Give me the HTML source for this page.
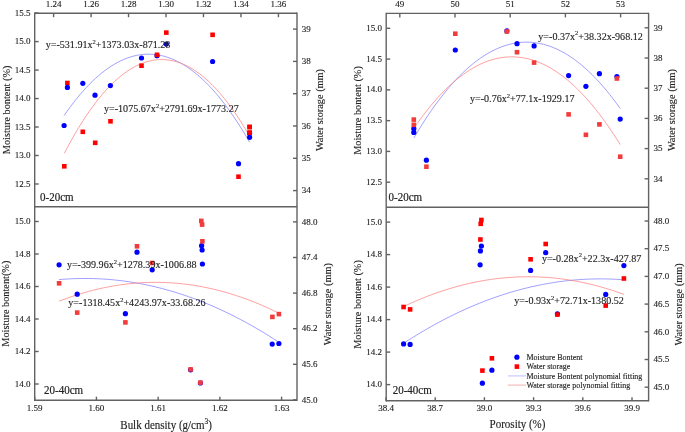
<!DOCTYPE html>
<html><head><meta charset="utf-8"><style>
html,body{margin:0;padding:0;background:#fff;}
svg{display:block;will-change:transform;}
text{font-family:"Liberation Serif",serif;fill:#222;stroke:#222;stroke-width:0.12px;}
.b{stroke:#222;stroke-width:0.18px;}
</style></head><body>
<svg width="685" height="432" viewBox="0 0 685 432">
<rect width="685" height="432" fill="#fff"/>
<g>
<rect width="685" height="432" fill="#fff"/>
<line x1="34.70" y1="13.20" x2="297.00" y2="13.20" stroke="#626262" stroke-width="1.4"/>
<line x1="34.70" y1="12.60" x2="34.70" y2="400.90" stroke="#626262" stroke-width="1.4"/>
<line x1="297.00" y1="12.60" x2="297.00" y2="400.90" stroke="#626262" stroke-width="1.4"/>
<line x1="34.70" y1="206.70" x2="297.00" y2="206.70" stroke="#626262" stroke-width="1.4"/>
<line x1="34.70" y1="400.30" x2="297.00" y2="400.30" stroke="#626262" stroke-width="1.4"/>
<line x1="53.60" y1="13.20" x2="53.60" y2="17.20" stroke="#626262" stroke-width="1.4"/>
<text transform="translate(53.60,7.30) scale(1,1.0)" font-size="9.0" text-anchor="middle">1.24</text>
<line x1="91.07" y1="13.20" x2="91.07" y2="17.20" stroke="#626262" stroke-width="1.4"/>
<text transform="translate(91.07,7.30) scale(1,1.0)" font-size="9.0" text-anchor="middle">1.26</text>
<line x1="128.54" y1="13.20" x2="128.54" y2="17.20" stroke="#626262" stroke-width="1.4"/>
<text transform="translate(128.54,7.30) scale(1,1.0)" font-size="9.0" text-anchor="middle">1.28</text>
<line x1="166.01" y1="13.20" x2="166.01" y2="17.20" stroke="#626262" stroke-width="1.4"/>
<text transform="translate(166.01,7.30) scale(1,1.0)" font-size="9.0" text-anchor="middle">1.30</text>
<line x1="203.48" y1="13.20" x2="203.48" y2="17.20" stroke="#626262" stroke-width="1.4"/>
<text transform="translate(203.48,7.30) scale(1,1.0)" font-size="9.0" text-anchor="middle">1.32</text>
<line x1="240.95" y1="13.20" x2="240.95" y2="17.20" stroke="#626262" stroke-width="1.4"/>
<text transform="translate(240.95,7.30) scale(1,1.0)" font-size="9.0" text-anchor="middle">1.34</text>
<line x1="278.42" y1="13.20" x2="278.42" y2="17.20" stroke="#626262" stroke-width="1.4"/>
<text transform="translate(278.42,7.30) scale(1,1.0)" font-size="9.0" text-anchor="middle">1.36</text>
<line x1="34.70" y1="13.10" x2="38.70" y2="13.10" stroke="#626262" stroke-width="1.4"/>
<text transform="translate(30.40,15.70) scale(1,1.0)" font-size="9.0" text-anchor="end">15.5</text>
<line x1="34.70" y1="41.58" x2="38.70" y2="41.58" stroke="#626262" stroke-width="1.4"/>
<text transform="translate(30.40,44.18) scale(1,1.0)" font-size="9.0" text-anchor="end">15.0</text>
<line x1="34.70" y1="70.06" x2="38.70" y2="70.06" stroke="#626262" stroke-width="1.4"/>
<text transform="translate(30.40,72.66) scale(1,1.0)" font-size="9.0" text-anchor="end">14.5</text>
<line x1="34.70" y1="98.54" x2="38.70" y2="98.54" stroke="#626262" stroke-width="1.4"/>
<text transform="translate(30.40,101.14) scale(1,1.0)" font-size="9.0" text-anchor="end">14.0</text>
<line x1="34.70" y1="127.02" x2="38.70" y2="127.02" stroke="#626262" stroke-width="1.4"/>
<text transform="translate(30.40,129.62) scale(1,1.0)" font-size="9.0" text-anchor="end">13.5</text>
<line x1="34.70" y1="155.50" x2="38.70" y2="155.50" stroke="#626262" stroke-width="1.4"/>
<text transform="translate(30.40,158.10) scale(1,1.0)" font-size="9.0" text-anchor="end">13.0</text>
<line x1="34.70" y1="183.98" x2="38.70" y2="183.98" stroke="#626262" stroke-width="1.4"/>
<text transform="translate(30.40,186.58) scale(1,1.0)" font-size="9.0" text-anchor="end">12.5</text>
<line x1="293.00" y1="29.10" x2="297.00" y2="29.10" stroke="#626262" stroke-width="1.4"/>
<text transform="translate(301.80,31.80) scale(1,1.0)" font-size="9.0" text-anchor="start">39</text>
<line x1="293.00" y1="61.40" x2="297.00" y2="61.40" stroke="#626262" stroke-width="1.4"/>
<text transform="translate(301.80,64.10) scale(1,1.0)" font-size="9.0" text-anchor="start">38</text>
<line x1="293.00" y1="93.70" x2="297.00" y2="93.70" stroke="#626262" stroke-width="1.4"/>
<text transform="translate(301.80,96.40) scale(1,1.0)" font-size="9.0" text-anchor="start">37</text>
<line x1="293.00" y1="126.00" x2="297.00" y2="126.00" stroke="#626262" stroke-width="1.4"/>
<text transform="translate(301.80,128.70) scale(1,1.0)" font-size="9.0" text-anchor="start">36</text>
<line x1="293.00" y1="158.30" x2="297.00" y2="158.30" stroke="#626262" stroke-width="1.4"/>
<text transform="translate(301.80,161.00) scale(1,1.0)" font-size="9.0" text-anchor="start">35</text>
<line x1="293.00" y1="190.60" x2="297.00" y2="190.60" stroke="#626262" stroke-width="1.4"/>
<text transform="translate(301.80,193.30) scale(1,1.0)" font-size="9.0" text-anchor="start">34</text>
<line x1="34.70" y1="400.30" x2="34.70" y2="396.70" stroke="#626262" stroke-width="1.4"/>
<text transform="translate(34.70,411.00) scale(1,1.0)" font-size="9.0" text-anchor="middle">1.59</text>
<line x1="96.42" y1="400.30" x2="96.42" y2="396.70" stroke="#626262" stroke-width="1.4"/>
<text transform="translate(96.42,411.00) scale(1,1.0)" font-size="9.0" text-anchor="middle">1.60</text>
<line x1="158.14" y1="400.30" x2="158.14" y2="396.70" stroke="#626262" stroke-width="1.4"/>
<text transform="translate(158.14,411.00) scale(1,1.0)" font-size="9.0" text-anchor="middle">1.61</text>
<line x1="219.86" y1="400.30" x2="219.86" y2="396.70" stroke="#626262" stroke-width="1.4"/>
<text transform="translate(219.86,411.00) scale(1,1.0)" font-size="9.0" text-anchor="middle">1.62</text>
<line x1="281.58" y1="400.30" x2="281.58" y2="396.70" stroke="#626262" stroke-width="1.4"/>
<text transform="translate(281.58,411.00) scale(1,1.0)" font-size="9.0" text-anchor="middle">1.63</text>
<line x1="34.70" y1="221.50" x2="38.70" y2="221.50" stroke="#626262" stroke-width="1.4"/>
<text transform="translate(30.40,224.10) scale(1,1.0)" font-size="9.0" text-anchor="end">15.0</text>
<line x1="34.70" y1="254.00" x2="38.70" y2="254.00" stroke="#626262" stroke-width="1.4"/>
<text transform="translate(30.40,256.60) scale(1,1.0)" font-size="9.0" text-anchor="end">14.8</text>
<line x1="34.70" y1="286.50" x2="38.70" y2="286.50" stroke="#626262" stroke-width="1.4"/>
<text transform="translate(30.40,289.10) scale(1,1.0)" font-size="9.0" text-anchor="end">14.6</text>
<line x1="34.70" y1="319.00" x2="38.70" y2="319.00" stroke="#626262" stroke-width="1.4"/>
<text transform="translate(30.40,321.60) scale(1,1.0)" font-size="9.0" text-anchor="end">14.4</text>
<line x1="34.70" y1="351.50" x2="38.70" y2="351.50" stroke="#626262" stroke-width="1.4"/>
<text transform="translate(30.40,354.10) scale(1,1.0)" font-size="9.0" text-anchor="end">14.2</text>
<line x1="34.70" y1="384.00" x2="38.70" y2="384.00" stroke="#626262" stroke-width="1.4"/>
<text transform="translate(30.40,386.60) scale(1,1.0)" font-size="9.0" text-anchor="end">14.0</text>
<line x1="293.00" y1="221.90" x2="297.00" y2="221.90" stroke="#626262" stroke-width="1.4"/>
<text transform="translate(301.80,224.60) scale(1,1.0)" font-size="9.0" text-anchor="start">48.0</text>
<line x1="293.00" y1="257.50" x2="297.00" y2="257.50" stroke="#626262" stroke-width="1.4"/>
<text transform="translate(301.80,260.20) scale(1,1.0)" font-size="9.0" text-anchor="start">47.4</text>
<line x1="293.00" y1="293.10" x2="297.00" y2="293.10" stroke="#626262" stroke-width="1.4"/>
<text transform="translate(301.80,295.80) scale(1,1.0)" font-size="9.0" text-anchor="start">46.8</text>
<line x1="293.00" y1="328.70" x2="297.00" y2="328.70" stroke="#626262" stroke-width="1.4"/>
<text transform="translate(301.80,331.40) scale(1,1.0)" font-size="9.0" text-anchor="start">46.2</text>
<line x1="293.00" y1="364.30" x2="297.00" y2="364.30" stroke="#626262" stroke-width="1.4"/>
<text transform="translate(301.80,367.00) scale(1,1.0)" font-size="9.0" text-anchor="start">45.6</text>
<line x1="293.00" y1="399.90" x2="297.00" y2="399.90" stroke="#626262" stroke-width="1.4"/>
<text transform="translate(301.80,402.60) scale(1,1.0)" font-size="9.0" text-anchor="start">45.0</text>
<text transform="translate(9.55,109.90) rotate(-90) scale(1,1.0)" font-size="10.3" text-anchor="middle">Moisture bontent (%)</text>
<text transform="translate(322.70,110.00) rotate(-90) scale(1,1.0)" font-size="10.3" text-anchor="middle">Water storage (mm)</text>
<text transform="translate(9.40,303.70) rotate(-90) scale(1,1.0)" font-size="10.3" text-anchor="middle">Moisture bontent(%)</text>
<text transform="translate(330.50,304.20) rotate(-90) scale(1,1.0)" font-size="10.3" text-anchor="middle">Water storage (mm)</text>
<text transform="translate(120.30,428.60) scale(1,1.07)" font-size="11">Bulk density (g/cm<tspan font-size="7.5" dy="-4.5">3</tspan><tspan dy="4.5">)</tspan></text>
<text class="b" transform="translate(40.00,200.60) scale(1,1.07)" font-size="11" text-anchor="start">0-20cm</text>
<text class="b" transform="translate(44.00,393.60) scale(1,1.07)" font-size="11" text-anchor="start">20-40cm</text>
<path d="M64.10,115.54 L67.24,111.05 L70.39,106.74 L73.53,102.59 L76.68,98.62 L79.82,94.81 L82.96,91.17 L86.11,87.71 L89.25,84.41 L92.40,81.29 L95.54,78.34 L98.68,75.55 L101.83,72.94 L104.97,70.50 L108.12,68.22 L111.26,66.12 L114.41,64.19 L117.55,62.42 L120.69,60.83 L123.84,59.41 L126.98,58.16 L130.13,57.08 L133.27,56.17 L136.41,55.43 L139.56,54.86 L142.70,54.46 L145.85,54.23 L148.99,54.17 L152.13,54.28 L155.28,54.56 L158.42,55.01 L161.57,55.63 L164.71,56.43 L167.85,57.39 L171.00,58.52 L174.14,59.83 L177.29,61.30 L180.43,62.94 L183.57,64.76 L186.72,66.74 L189.86,68.90 L193.01,71.22 L196.15,73.72 L199.29,76.38 L202.44,79.22 L205.58,82.22 L208.73,85.40 L211.87,88.75 L215.02,92.26 L218.16,95.95 L221.30,99.81 L224.45,103.84 L227.59,108.03 L230.74,112.40 L233.88,116.94 L237.02,121.65 L240.17,126.53 L243.31,131.58 L246.46,136.80 L249.60,142.19" fill="none" stroke="#8080ff" stroke-width="0.75"/>
<path d="M64.30,153.30 L67.44,147.34 L70.58,141.59 L73.72,136.03 L76.86,130.66 L80.00,125.49 L83.14,120.51 L86.28,115.73 L89.43,111.14 L92.57,106.75 L95.71,102.56 L98.85,98.56 L101.99,94.75 L105.13,91.14 L108.27,87.73 L111.41,84.51 L114.55,81.49 L117.69,78.66 L120.83,76.02 L123.97,73.59 L127.11,71.34 L130.25,69.30 L133.39,67.45 L136.54,65.79 L139.68,64.33 L142.82,63.06 L145.96,61.99 L149.10,61.11 L152.24,60.43 L155.38,59.95 L158.52,59.66 L161.66,59.56 L164.80,59.67 L167.94,59.96 L171.08,60.45 L174.22,61.14 L177.36,62.02 L180.51,63.10 L183.65,64.37 L186.79,65.84 L189.93,67.50 L193.07,69.36 L196.21,71.41 L199.35,73.66 L202.49,76.11 L205.63,78.75 L208.77,81.58 L211.91,84.61 L215.05,87.84 L218.19,91.26 L221.33,94.87 L224.47,98.68 L227.62,102.69 L230.76,106.89 L233.90,111.29 L237.04,115.88 L240.18,120.67 L243.32,125.65 L246.46,130.83 L249.60,136.20" fill="none" stroke="#ff8080" stroke-width="0.75"/>
<circle cx="249.60" cy="133.50" r="2.6" fill="#0000ff"/>
<rect x="65.10" y="80.70" width="4.6" height="4.6" fill="#ff0000"/>
<rect x="80.50" y="129.50" width="4.6" height="4.6" fill="#ff0000"/>
<rect x="108.20" y="119.00" width="4.6" height="4.6" fill="#ff0000"/>
<rect x="62.00" y="164.00" width="4.6" height="4.6" fill="#ff0000"/>
<rect x="92.90" y="140.50" width="4.6" height="4.6" fill="#ff0000"/>
<rect x="164.00" y="30.30" width="4.6" height="4.6" fill="#ff0000"/>
<rect x="139.20" y="63.40" width="4.6" height="4.6" fill="#ff0000"/>
<rect x="210.30" y="32.50" width="4.6" height="4.6" fill="#ff0000"/>
<rect x="247.30" y="124.70" width="4.6" height="4.6" fill="#ff0000"/>
<rect x="247.30" y="130.50" width="4.6" height="4.6" fill="#ff0000"/>
<rect x="236.20" y="174.40" width="4.6" height="4.6" fill="#ff0000"/>
<circle cx="67.40" cy="87.40" r="2.6" fill="#0000ff"/>
<circle cx="82.80" cy="83.30" r="2.6" fill="#0000ff"/>
<circle cx="95.00" cy="95.20" r="2.6" fill="#0000ff"/>
<circle cx="110.40" cy="85.60" r="2.6" fill="#0000ff"/>
<circle cx="64.10" cy="125.50" r="2.6" fill="#0000ff"/>
<circle cx="166.30" cy="44.10" r="2.6" fill="#0000ff"/>
<circle cx="157.00" cy="55.70" r="2.6" fill="#0000ff"/>
<circle cx="141.50" cy="58.00" r="2.6" fill="#0000ff"/>
<circle cx="212.60" cy="61.50" r="2.6" fill="#0000ff"/>
<circle cx="249.60" cy="137.30" r="2.6" fill="#0000ff"/>
<circle cx="238.50" cy="163.70" r="2.6" fill="#0000ff"/>
<rect x="154.70" y="52.50" width="4.6" height="4.6" fill="#ff0000"/>
<rect x="247.30" y="124.70" width="4.6" height="4.6" fill="#ff0000"/>
<rect x="247.30" y="130.30" width="4.6" height="4.6" fill="#ff0000"/>
<text transform="translate(45.70,47.85) scale(1,1.07)" font-size="10.1">y=-531.91x<tspan font-size="6.5" dy="-4">2</tspan><tspan dy="4">+1373.03x-871.28</tspan></text>
<text transform="translate(104.00,111.95) scale(1,1.07)" font-size="10.1">y=-1075.67x<tspan font-size="6.5" dy="-4">2</tspan><tspan dy="4">+2791.69x-1773.27</tspan></text>
<path d="M59.10,279.61 L62.80,279.31 L66.50,279.05 L70.20,278.85 L73.90,278.68 L77.60,278.57 L81.30,278.50 L85.00,278.47 L88.70,278.50 L92.40,278.57 L96.10,278.68 L99.80,278.84 L103.50,279.05 L107.20,279.31 L110.90,279.61 L114.60,279.96 L118.30,280.35 L122.00,280.79 L125.70,281.28 L129.40,281.82 L133.10,282.40 L136.80,283.02 L140.50,283.70 L144.20,284.42 L147.90,285.18 L151.60,286.00 L155.30,286.85 L159.00,287.76 L162.70,288.71 L166.40,289.71 L170.10,290.76 L173.80,291.85 L177.50,292.98 L181.20,294.17 L184.90,295.40 L188.60,296.68 L192.30,298.00 L196.00,299.37 L199.70,300.79 L203.40,302.25 L207.10,303.76 L210.80,305.32 L214.50,306.92 L218.20,308.57 L221.90,310.26 L225.60,312.00 L229.30,313.79 L233.00,315.63 L236.70,317.51 L240.40,319.43 L244.10,321.41 L247.80,323.43 L251.50,325.50 L255.20,327.61 L258.90,329.77 L262.60,331.97 L266.30,334.23 L270.00,336.53 L273.70,338.87 L277.40,341.26" fill="none" stroke="#8080ff" stroke-width="0.75"/>
<path d="M59.10,301.20 L62.80,299.78 L66.50,298.42 L70.20,297.11 L73.90,295.86 L77.60,294.66 L81.30,293.52 L85.00,292.43 L88.70,291.40 L92.40,290.43 L96.10,289.51 L99.80,288.64 L103.50,287.84 L107.20,287.08 L110.90,286.38 L114.60,285.74 L118.30,285.16 L122.00,284.63 L125.70,284.15 L129.40,283.73 L133.10,283.37 L136.80,283.06 L140.50,282.80 L144.20,282.61 L147.90,282.47 L151.60,282.38 L155.30,282.35 L159.00,282.37 L162.70,282.45 L166.40,282.59 L170.10,282.78 L173.80,283.03 L177.50,283.33 L181.20,283.69 L184.90,284.10 L188.60,284.57 L192.30,285.09 L196.00,285.67 L199.70,286.31 L203.40,287.00 L207.10,287.75 L210.80,288.55 L214.50,289.41 L218.20,290.32 L221.90,291.29 L225.60,292.31 L229.30,293.39 L233.00,294.53 L236.70,295.72 L240.40,296.97 L244.10,298.27 L247.80,299.63 L251.50,301.04 L255.20,302.51 L258.90,304.03 L262.60,305.61 L266.30,307.25 L270.00,308.94 L273.70,310.68 L277.40,312.49" fill="none" stroke="#ff8080" stroke-width="0.75"/>
<circle cx="59.10" cy="264.80" r="2.6" fill="#0000ff"/>
<circle cx="77.20" cy="294.20" r="2.6" fill="#0000ff"/>
<circle cx="125.40" cy="313.70" r="2.6" fill="#0000ff"/>
<circle cx="137.00" cy="252.20" r="2.6" fill="#0000ff"/>
<circle cx="152.20" cy="269.80" r="2.6" fill="#0000ff"/>
<circle cx="190.60" cy="369.80" r="2.6" fill="#0000ff"/>
<circle cx="200.40" cy="383.00" r="2.6" fill="#0000ff"/>
<circle cx="201.60" cy="245.70" r="2.6" fill="#0000ff"/>
<circle cx="202.10" cy="250.00" r="2.6" fill="#0000ff"/>
<circle cx="202.40" cy="264.00" r="2.6" fill="#0000ff"/>
<circle cx="272.20" cy="344.10" r="2.6" fill="#0000ff"/>
<circle cx="278.90" cy="343.50" r="2.6" fill="#0000ff"/>
<rect x="56.80" y="281.00" width="4.6" height="4.6" fill="#f23c3c"/>
<rect x="74.90" y="310.30" width="4.6" height="4.6" fill="#f23c3c"/>
<rect x="123.10" y="320.10" width="4.6" height="4.6" fill="#f23c3c"/>
<rect x="134.70" y="244.00" width="4.6" height="4.6" fill="#f23c3c"/>
<rect x="149.90" y="260.70" width="4.6" height="4.6" fill="#f23c3c"/>
<rect x="199.00" y="218.60" width="4.6" height="4.6" fill="#f23c3c"/>
<rect x="199.80" y="222.30" width="4.6" height="4.6" fill="#f23c3c"/>
<rect x="200.10" y="239.00" width="4.6" height="4.6" fill="#f23c3c"/>
<rect x="270.10" y="314.60" width="4.6" height="4.6" fill="#f23c3c"/>
<rect x="276.60" y="311.80" width="4.6" height="4.6" fill="#f23c3c"/>
<rect x="188.30" y="367.10" width="4.6" height="4.6" fill="#f23c3c"/>
<rect x="198.10" y="380.30" width="4.6" height="4.6" fill="#f23c3c"/>
<text transform="translate(66.90,267.85) scale(1,1.07)" font-size="10.1">y=-399.96x<tspan font-size="6.5" dy="-4">2</tspan><tspan dy="4">+1278.39x-1006.88</tspan></text>
<text transform="translate(68.30,306.25) scale(1,1.07)" font-size="10.1">y=-1318.45x<tspan font-size="6.5" dy="-4">2</tspan><tspan dy="4">+4243.97x-33.68.26</tspan></text>
<line x1="386.20" y1="13.40" x2="648.60" y2="13.40" stroke="#626262" stroke-width="1.4"/>
<line x1="386.20" y1="12.80" x2="386.20" y2="401.40" stroke="#626262" stroke-width="1.4"/>
<line x1="648.60" y1="12.80" x2="648.60" y2="401.40" stroke="#626262" stroke-width="1.4"/>
<line x1="386.20" y1="207.20" x2="648.60" y2="207.20" stroke="#626262" stroke-width="1.4"/>
<line x1="386.20" y1="400.80" x2="648.60" y2="400.80" stroke="#626262" stroke-width="1.4"/>
<line x1="399.80" y1="13.40" x2="399.80" y2="17.40" stroke="#626262" stroke-width="1.4"/>
<text transform="translate(399.80,7.30) scale(1,1.0)" font-size="9.0" text-anchor="middle">49</text>
<line x1="455.00" y1="13.40" x2="455.00" y2="17.40" stroke="#626262" stroke-width="1.4"/>
<text transform="translate(455.00,7.30) scale(1,1.0)" font-size="9.0" text-anchor="middle">50</text>
<line x1="510.20" y1="13.40" x2="510.20" y2="17.40" stroke="#626262" stroke-width="1.4"/>
<text transform="translate(510.20,7.30) scale(1,1.0)" font-size="9.0" text-anchor="middle">51</text>
<line x1="565.40" y1="13.40" x2="565.40" y2="17.40" stroke="#626262" stroke-width="1.4"/>
<text transform="translate(565.40,7.30) scale(1,1.0)" font-size="9.0" text-anchor="middle">52</text>
<line x1="620.60" y1="13.40" x2="620.60" y2="17.40" stroke="#626262" stroke-width="1.4"/>
<text transform="translate(620.60,7.30) scale(1,1.0)" font-size="9.0" text-anchor="middle">53</text>
<line x1="386.20" y1="28.30" x2="390.20" y2="28.30" stroke="#626262" stroke-width="1.4"/>
<text transform="translate(381.90,30.90) scale(1,1.0)" font-size="9.0" text-anchor="end">15.0</text>
<line x1="386.20" y1="59.08" x2="390.20" y2="59.08" stroke="#626262" stroke-width="1.4"/>
<text transform="translate(381.90,61.68) scale(1,1.0)" font-size="9.0" text-anchor="end">14.5</text>
<line x1="386.20" y1="89.86" x2="390.20" y2="89.86" stroke="#626262" stroke-width="1.4"/>
<text transform="translate(381.90,92.46) scale(1,1.0)" font-size="9.0" text-anchor="end">14.0</text>
<line x1="386.20" y1="120.64" x2="390.20" y2="120.64" stroke="#626262" stroke-width="1.4"/>
<text transform="translate(381.90,123.24) scale(1,1.0)" font-size="9.0" text-anchor="end">13.5</text>
<line x1="386.20" y1="151.42" x2="390.20" y2="151.42" stroke="#626262" stroke-width="1.4"/>
<text transform="translate(381.90,154.02) scale(1,1.0)" font-size="9.0" text-anchor="end">13.0</text>
<line x1="386.20" y1="182.20" x2="390.20" y2="182.20" stroke="#626262" stroke-width="1.4"/>
<text transform="translate(381.90,184.80) scale(1,1.0)" font-size="9.0" text-anchor="end">12.5</text>
<line x1="644.60" y1="27.80" x2="648.60" y2="27.80" stroke="#626262" stroke-width="1.4"/>
<text transform="translate(653.40,30.50) scale(1,1.0)" font-size="9.0" text-anchor="start">39</text>
<line x1="644.60" y1="58.00" x2="648.60" y2="58.00" stroke="#626262" stroke-width="1.4"/>
<text transform="translate(653.40,60.70) scale(1,1.0)" font-size="9.0" text-anchor="start">38</text>
<line x1="644.60" y1="88.20" x2="648.60" y2="88.20" stroke="#626262" stroke-width="1.4"/>
<text transform="translate(653.40,90.90) scale(1,1.0)" font-size="9.0" text-anchor="start">37</text>
<line x1="644.60" y1="118.40" x2="648.60" y2="118.40" stroke="#626262" stroke-width="1.4"/>
<text transform="translate(653.40,121.10) scale(1,1.0)" font-size="9.0" text-anchor="start">36</text>
<line x1="644.60" y1="148.60" x2="648.60" y2="148.60" stroke="#626262" stroke-width="1.4"/>
<text transform="translate(653.40,151.30) scale(1,1.0)" font-size="9.0" text-anchor="start">35</text>
<line x1="644.60" y1="178.80" x2="648.60" y2="178.80" stroke="#626262" stroke-width="1.4"/>
<text transform="translate(653.40,181.50) scale(1,1.0)" font-size="9.0" text-anchor="start">34</text>
<line x1="386.00" y1="400.80" x2="386.00" y2="397.20" stroke="#626262" stroke-width="1.4"/>
<text transform="translate(386.00,411.00) scale(1,1.0)" font-size="9.0" text-anchor="middle">38.4</text>
<line x1="435.20" y1="400.80" x2="435.20" y2="397.20" stroke="#626262" stroke-width="1.4"/>
<text transform="translate(435.20,411.00) scale(1,1.0)" font-size="9.0" text-anchor="middle">38.7</text>
<line x1="484.40" y1="400.80" x2="484.40" y2="397.20" stroke="#626262" stroke-width="1.4"/>
<text transform="translate(484.40,411.00) scale(1,1.0)" font-size="9.0" text-anchor="middle">39.0</text>
<line x1="533.60" y1="400.80" x2="533.60" y2="397.20" stroke="#626262" stroke-width="1.4"/>
<text transform="translate(533.60,411.00) scale(1,1.0)" font-size="9.0" text-anchor="middle">39.3</text>
<line x1="582.80" y1="400.80" x2="582.80" y2="397.20" stroke="#626262" stroke-width="1.4"/>
<text transform="translate(582.80,411.00) scale(1,1.0)" font-size="9.0" text-anchor="middle">39.6</text>
<line x1="632.00" y1="400.80" x2="632.00" y2="397.20" stroke="#626262" stroke-width="1.4"/>
<text transform="translate(632.00,411.00) scale(1,1.0)" font-size="9.0" text-anchor="middle">39.9</text>
<line x1="386.20" y1="222.10" x2="390.20" y2="222.10" stroke="#626262" stroke-width="1.4"/>
<text transform="translate(381.90,224.70) scale(1,1.0)" font-size="9.0" text-anchor="end">15.0</text>
<line x1="386.20" y1="254.60" x2="390.20" y2="254.60" stroke="#626262" stroke-width="1.4"/>
<text transform="translate(381.90,257.20) scale(1,1.0)" font-size="9.0" text-anchor="end">14.8</text>
<line x1="386.20" y1="287.10" x2="390.20" y2="287.10" stroke="#626262" stroke-width="1.4"/>
<text transform="translate(381.90,289.70) scale(1,1.0)" font-size="9.0" text-anchor="end">14.6</text>
<line x1="386.20" y1="319.60" x2="390.20" y2="319.60" stroke="#626262" stroke-width="1.4"/>
<text transform="translate(381.90,322.20) scale(1,1.0)" font-size="9.0" text-anchor="end">14.4</text>
<line x1="386.20" y1="352.10" x2="390.20" y2="352.10" stroke="#626262" stroke-width="1.4"/>
<text transform="translate(381.90,354.70) scale(1,1.0)" font-size="9.0" text-anchor="end">14.2</text>
<line x1="386.20" y1="384.60" x2="390.20" y2="384.60" stroke="#626262" stroke-width="1.4"/>
<text transform="translate(381.90,387.20) scale(1,1.0)" font-size="9.0" text-anchor="end">14.0</text>
<line x1="644.60" y1="221.00" x2="648.60" y2="221.00" stroke="#626262" stroke-width="1.4"/>
<text transform="translate(653.40,223.70) scale(1,1.0)" font-size="9.0" text-anchor="start">48.0</text>
<line x1="644.60" y1="248.70" x2="648.60" y2="248.70" stroke="#626262" stroke-width="1.4"/>
<text transform="translate(653.40,251.40) scale(1,1.0)" font-size="9.0" text-anchor="start">47.5</text>
<line x1="644.60" y1="276.40" x2="648.60" y2="276.40" stroke="#626262" stroke-width="1.4"/>
<text transform="translate(653.40,279.10) scale(1,1.0)" font-size="9.0" text-anchor="start">47.0</text>
<line x1="644.60" y1="304.10" x2="648.60" y2="304.10" stroke="#626262" stroke-width="1.4"/>
<text transform="translate(653.40,306.80) scale(1,1.0)" font-size="9.0" text-anchor="start">46.5</text>
<line x1="644.60" y1="331.80" x2="648.60" y2="331.80" stroke="#626262" stroke-width="1.4"/>
<text transform="translate(653.40,334.50) scale(1,1.0)" font-size="9.0" text-anchor="start">46.0</text>
<line x1="644.60" y1="359.50" x2="648.60" y2="359.50" stroke="#626262" stroke-width="1.4"/>
<text transform="translate(653.40,362.20) scale(1,1.0)" font-size="9.0" text-anchor="start">45.5</text>
<line x1="644.60" y1="387.20" x2="648.60" y2="387.20" stroke="#626262" stroke-width="1.4"/>
<text transform="translate(653.40,389.90) scale(1,1.0)" font-size="9.0" text-anchor="start">45.0</text>
<text transform="translate(360.70,110.50) rotate(-90) scale(1,1.0)" font-size="10.3" text-anchor="middle">Moisture bontent (%)</text>
<text transform="translate(674.80,110.00) rotate(-90) scale(1,1.0)" font-size="10.3" text-anchor="middle">Water storage (mm)</text>
<text transform="translate(360.80,304.50) rotate(-90) scale(1,1.0)" font-size="10.3" text-anchor="middle">Moisture bontent (%)</text>
<text transform="translate(681.90,304.40) rotate(-90) scale(1,1.0)" font-size="10.3" text-anchor="middle">Water storage (mm)</text>
<text transform="translate(489.60,427.80) scale(1,1.07)" font-size="11" text-anchor="start">Porosity (%)</text>
<text class="b" transform="translate(388.60,201.00) scale(1,1.07)" font-size="11" text-anchor="start">0-20cm</text>
<text class="b" transform="translate(392.70,393.90) scale(1,1.07)" font-size="11" text-anchor="start">20-40cm</text>
<path d="M413.80,138.10 L417.30,132.23 L420.80,126.55 L424.29,121.05 L427.79,115.74 L431.29,110.61 L434.79,105.67 L438.29,100.92 L441.79,96.34 L445.28,91.96 L448.78,87.76 L452.28,83.74 L455.78,79.91 L459.28,76.26 L462.78,72.80 L466.27,69.52 L469.77,66.43 L473.27,63.53 L476.77,60.81 L480.27,58.27 L483.77,55.92 L487.26,53.75 L490.76,51.77 L494.26,49.97 L497.76,48.36 L501.26,46.94 L504.76,45.69 L508.25,44.64 L511.75,43.77 L515.25,43.08 L518.75,42.58 L522.25,42.26 L525.75,42.13 L529.24,42.19 L532.74,42.42 L536.24,42.85 L539.74,43.46 L543.24,44.25 L546.74,45.23 L550.23,46.39 L553.73,47.74 L557.23,49.28 L560.73,51.00 L564.23,52.90 L567.73,54.99 L571.22,57.26 L574.72,59.72 L578.22,62.36 L581.72,65.19 L585.22,68.21 L588.72,71.41 L592.21,74.79 L595.71,78.36 L599.21,82.11 L602.71,86.05 L606.21,90.18 L609.71,94.49 L613.20,98.98 L616.70,103.66 L620.20,108.52" fill="none" stroke="#8080ff" stroke-width="0.75"/>
<path d="M413.80,128.37 L417.30,123.35 L420.80,118.51 L424.29,113.86 L427.79,109.39 L431.29,105.10 L434.79,100.99 L438.29,97.07 L441.79,93.33 L445.28,89.77 L448.78,86.39 L452.28,83.20 L455.78,80.18 L459.28,77.36 L462.78,74.71 L466.27,72.25 L469.77,69.96 L473.27,67.87 L476.77,65.95 L480.27,64.22 L483.77,62.67 L487.26,61.30 L490.76,60.11 L494.26,59.11 L497.76,58.29 L501.26,57.65 L504.76,57.19 L508.25,56.92 L511.75,56.83 L515.25,56.92 L518.75,57.20 L522.25,57.65 L525.75,58.29 L529.24,59.11 L532.74,60.12 L536.24,61.31 L539.74,62.68 L543.24,64.23 L546.74,65.96 L550.23,67.88 L553.73,69.98 L557.23,72.26 L560.73,74.73 L564.23,77.37 L567.73,80.20 L571.22,83.22 L574.72,86.41 L578.22,89.79 L581.72,93.35 L585.22,97.09 L588.72,101.02 L592.21,105.12 L595.71,109.41 L599.21,113.89 L602.71,118.54 L606.21,123.38 L609.71,128.40 L613.20,133.60 L616.70,138.99 L620.20,144.56" fill="none" stroke="#ff8080" stroke-width="0.75"/>
<circle cx="413.80" cy="128.70" r="2.6" fill="#0000ff"/>
<circle cx="413.80" cy="132.40" r="2.6" fill="#0000ff"/>
<circle cx="426.40" cy="160.20" r="2.6" fill="#0000ff"/>
<circle cx="455.30" cy="50.00" r="2.6" fill="#0000ff"/>
<circle cx="506.90" cy="30.90" r="2.6" fill="#0000ff"/>
<circle cx="517.00" cy="43.70" r="2.6" fill="#0000ff"/>
<circle cx="534.10" cy="45.90" r="2.6" fill="#0000ff"/>
<circle cx="568.60" cy="75.60" r="2.6" fill="#0000ff"/>
<circle cx="585.90" cy="86.30" r="2.6" fill="#0000ff"/>
<circle cx="599.40" cy="73.70" r="2.6" fill="#0000ff"/>
<circle cx="616.90" cy="76.50" r="2.6" fill="#0000ff"/>
<circle cx="620.20" cy="119.10" r="2.6" fill="#0000ff"/>
<rect x="411.50" y="117.30" width="4.6" height="4.6" fill="#f23c3c"/>
<rect x="411.50" y="122.50" width="4.6" height="4.6" fill="#f23c3c"/>
<rect x="424.10" y="164.40" width="4.6" height="4.6" fill="#f23c3c"/>
<rect x="453.00" y="31.40" width="4.6" height="4.6" fill="#f23c3c"/>
<rect x="504.60" y="29.20" width="4.6" height="4.6" fill="#f23c3c"/>
<rect x="514.70" y="49.90" width="4.6" height="4.6" fill="#f23c3c"/>
<rect x="531.80" y="60.30" width="4.6" height="4.6" fill="#f23c3c"/>
<rect x="566.30" y="112.10" width="4.6" height="4.6" fill="#f23c3c"/>
<rect x="583.60" y="132.50" width="4.6" height="4.6" fill="#f23c3c"/>
<rect x="597.10" y="122.10" width="4.6" height="4.6" fill="#f23c3c"/>
<rect x="614.60" y="76.20" width="4.6" height="4.6" fill="#f23c3c"/>
<rect x="617.90" y="154.40" width="4.6" height="4.6" fill="#f23c3c"/>
<text transform="translate(538.30,39.75) scale(1,1.07)" font-size="10.1">y=-0.37x<tspan font-size="6.5" dy="-4">2</tspan><tspan dy="4">+38.32x-968.12</tspan></text>
<text transform="translate(470.00,101.95) scale(1,1.07)" font-size="10.1">y=-0.76x<tspan font-size="6.5" dy="-4">2</tspan><tspan dy="4">+77.1x-1929.17</tspan></text>
<path d="M405.40,342.15 L409.10,339.77 L412.81,337.44 L416.51,335.15 L420.21,332.91 L423.92,330.71 L427.62,328.56 L431.32,326.45 L435.03,324.39 L438.73,322.38 L442.43,320.41 L446.14,318.49 L449.84,316.61 L453.54,314.78 L457.25,312.99 L460.95,311.25 L464.65,309.55 L468.36,307.90 L472.06,306.30 L475.76,304.74 L479.47,303.23 L483.17,301.76 L486.87,300.34 L490.58,298.96 L494.28,297.63 L497.98,296.35 L501.69,295.11 L505.39,293.92 L509.09,292.77 L512.80,291.66 L516.50,290.61 L520.21,289.60 L523.91,288.63 L527.61,287.71 L531.32,286.84 L535.02,286.01 L538.72,285.23 L542.43,284.49 L546.13,283.80 L549.83,283.15 L553.54,282.55 L557.24,281.99 L560.94,281.48 L564.65,281.02 L568.35,280.60 L572.05,280.23 L575.76,279.90 L579.46,279.62 L583.16,279.39 L586.87,279.20 L590.57,279.05 L594.27,278.95 L597.98,278.90 L601.68,278.89 L605.38,278.93 L609.09,279.01 L612.79,279.14 L616.49,279.32 L620.20,279.54 L623.90,279.80" fill="none" stroke="#8080ff" stroke-width="0.75"/>
<path d="M405.40,305.74 L409.10,304.01 L412.81,302.34 L416.51,300.73 L420.21,299.16 L423.92,297.65 L427.62,296.19 L431.32,294.79 L435.03,293.43 L438.73,292.13 L442.43,290.89 L446.14,289.69 L449.84,288.55 L453.54,287.46 L457.25,286.42 L460.95,285.44 L464.65,284.51 L468.36,283.63 L472.06,282.80 L475.76,282.03 L479.47,281.31 L483.17,280.64 L486.87,280.03 L490.58,279.47 L494.28,278.96 L497.98,278.50 L501.69,278.10 L505.39,277.75 L509.09,277.45 L512.80,277.21 L516.50,277.01 L520.21,276.87 L523.91,276.79 L527.61,276.75 L531.32,276.77 L535.02,276.84 L538.72,276.97 L542.43,277.14 L546.13,277.37 L549.83,277.66 L553.54,277.99 L557.24,278.38 L560.94,278.82 L564.65,279.31 L568.35,279.86 L572.05,280.46 L575.76,281.11 L579.46,281.82 L583.16,282.57 L586.87,283.38 L590.57,284.25 L594.27,285.16 L597.98,286.13 L601.68,287.15 L605.38,288.22 L609.09,289.35 L612.79,290.53 L616.49,291.76 L620.20,293.05 L623.90,294.39" fill="none" stroke="#ff8080" stroke-width="0.75"/>
<circle cx="403.60" cy="343.90" r="2.6" fill="#0000ff"/>
<circle cx="410.10" cy="344.40" r="2.6" fill="#0000ff"/>
<circle cx="481.40" cy="246.00" r="2.6" fill="#0000ff"/>
<circle cx="480.40" cy="250.90" r="2.6" fill="#0000ff"/>
<circle cx="480.10" cy="264.80" r="2.6" fill="#0000ff"/>
<circle cx="482.40" cy="383.20" r="2.6" fill="#0000ff"/>
<circle cx="491.90" cy="370.20" r="2.6" fill="#0000ff"/>
<circle cx="530.60" cy="270.40" r="2.6" fill="#0000ff"/>
<circle cx="545.70" cy="252.70" r="2.6" fill="#0000ff"/>
<circle cx="605.70" cy="294.40" r="2.6" fill="#0000ff"/>
<circle cx="623.90" cy="265.60" r="2.6" fill="#0000ff"/>
<rect x="401.30" y="304.70" width="4.6" height="4.6" fill="#ff0000"/>
<rect x="407.80" y="307.10" width="4.6" height="4.6" fill="#ff0000"/>
<rect x="479.10" y="217.70" width="4.6" height="4.6" fill="#ff0000"/>
<rect x="478.40" y="221.50" width="4.6" height="4.6" fill="#ff0000"/>
<rect x="478.10" y="237.20" width="4.6" height="4.6" fill="#ff0000"/>
<rect x="480.10" y="368.30" width="4.6" height="4.6" fill="#ff0000"/>
<rect x="489.60" y="356.00" width="4.6" height="4.6" fill="#ff0000"/>
<rect x="528.30" y="257.00" width="4.6" height="4.6" fill="#ff0000"/>
<rect x="543.40" y="241.70" width="4.6" height="4.6" fill="#ff0000"/>
<rect x="603.40" y="303.30" width="4.6" height="4.6" fill="#ff0000"/>
<rect x="621.60" y="276.20" width="4.6" height="4.6" fill="#ff0000"/>
<circle cx="557.40" cy="313.80" r="2.6" fill="#0000ff"/>
<rect x="555.10" y="312.30" width="4.6" height="4.6" fill="#ff0000"/>
<text transform="translate(541.90,261.75) scale(1,1.07)" font-size="10.1">y=-0.28x<tspan font-size="6.5" dy="-4">2</tspan><tspan dy="4">+22.3x-427.87</tspan></text>
<text transform="translate(514.30,304.45) scale(1,1.07)" font-size="10.1">y=-0.93x<tspan font-size="6.5" dy="-4">2</tspan><tspan dy="4">+72.71x-1380.52</tspan></text>
<circle cx="516.90" cy="357.20" r="2.6" fill="#0000ff"/>
<text transform="translate(526.40,360.10) scale(1,1.07)" font-size="8.0" text-anchor="start">Moisture Bontent</text>
<rect x="514.60" y="364.30" width="4.6" height="4.6" fill="#ff0000"/>
<text transform="translate(526.40,369.10) scale(1,1.07)" font-size="8.0" text-anchor="start">Water storage</text>
<line x1="507.80" y1="375.90" x2="526.00" y2="375.90" stroke="#d2d2ff" stroke-width="1.4"/>
<text transform="translate(526.40,378.70) scale(1,1.07)" font-size="8.0" text-anchor="start">Moisture Bontent polynomial fitting</text>
<line x1="507.80" y1="385.10" x2="526.00" y2="385.10" stroke="#f8c6c6" stroke-width="1.4"/>
<text transform="translate(526.40,387.80) scale(1,1.07)" font-size="8.0" text-anchor="start">Water storage polynomial fitting</text>
</g>
</svg>
</body></html>
